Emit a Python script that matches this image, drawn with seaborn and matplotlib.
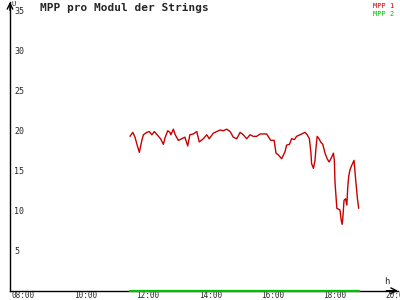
import matplotlib
matplotlib.use("Agg")
import matplotlib.pyplot as plt
from matplotlib.transforms import ScaledTranslation
import seaborn as sns
import pandas as pd

title = "MPP pro Modul der Strings"
series_names = ["MPP 1", "MPP 2"]
series_colors = ["#c80000", "#00c000"]

mpp1_hours = [11.67, 11.76, 11.83, 11.90, 11.97, 12.05, 12.10, 12.21, 12.29, 12.37,
              12.45, 12.56, 12.65, 12.74, 12.80, 12.88, 12.95, 12.98, 13.06, 13.12,
              13.22, 13.33, 13.43, 13.52, 13.59, 13.70, 13.81, 13.89, 14.02, 14.13,
              14.21, 14.34, 14.45, 14.56, 14.66, 14.77, 14.88, 14.98, 15.09, 15.20,
              15.30, 15.41, 15.52, 15.62, 15.73, 15.84, 16.05, 16.18, 16.29, 16.35,
              16.42, 16.53, 16.64, 16.69, 16.78, 16.85, 16.94, 17.01, 17.12, 17.28,
              17.35, 17.42, 17.47, 17.49, 17.55, 17.60, 17.63, 17.67, 17.73, 17.78,
              17.85, 17.92, 17.99, 18.05, 18.11, 18.19, 18.22, 18.24, 18.30, 18.35,
              18.40, 18.44, 18.47, 18.49, 18.53, 18.58, 18.62, 18.65, 18.68, 18.72,
              18.78, 18.85, 18.91, 18.96, 19.00]
mpp1_values = [19.3, 19.8, 19.2, 18.2, 17.3, 18.8, 19.5, 19.8, 19.9, 19.5,
               19.9, 19.4, 19.0, 18.3, 19.2, 20.0, 19.8, 19.5, 20.2, 19.5,
               18.8, 19.0, 19.2, 18.1, 19.5, 19.6, 19.9, 18.6, 19.0, 19.5,
               19.0, 19.7, 19.9, 20.1, 20.0, 20.2, 19.9, 19.2, 19.0, 19.8,
               19.5, 19.0, 19.5, 19.3, 19.3, 19.6, 19.6, 18.8, 18.8, 17.2,
               17.0, 16.5, 17.4, 18.2, 18.3, 19.0, 18.9, 19.3, 19.5, 19.8,
               19.5, 19.0, 17.2, 15.9, 15.3, 16.3, 17.8, 19.3, 19.0, 18.6,
               18.3, 17.2, 16.5, 16.1, 16.5, 17.2, 16.3, 13.6, 10.3, 10.2,
               10.1, 8.8, 8.3, 9.0, 11.3, 11.5, 10.7, 13.0, 14.3, 15.1,
               15.7, 16.3, 13.6, 11.5, 10.3]

mpp2_hours = [11.67, 13.0, 15.0, 17.0, 19.0]
mpp2_values = [0, 0, 0, 0, 0]

x_ticks = [8, 10, 12, 14, 16, 18, 20]
x_tick_labels = ["08:00", "10:00", "12:00", "14:00", "16:00", "18:00", "20:00"]
y_ticks = [5, 10, 15, 20, 25, 30, 35]
y_unit = "U"
x_unit = "h"

df1 = pd.DataFrame({"hour": mpp1_hours, "value": mpp1_values, "series": series_names[0]})
df2 = pd.DataFrame({"hour": mpp2_hours, "value": mpp2_values, "series": series_names[1]})

sns.set_style("white")
plt.rcParams["font.family"] = ["DejaVu Sans Mono", "DejaVu Sans"]

fig = plt.figure(figsize=(4, 3), dpi=100)
ax = fig.add_axes([10 / 400, (300 - 290.7) / 300, 388 / 400, (290.7 - 2) / 300])

sns.lineplot(data=df1, x="hour", y="value", color=series_colors[0], lw=1.0, ax=ax,
             legend=False, zorder=3)
sns.lineplot(data=df2, x="hour", y="value", color=series_colors[1], lw=1.6, ax=ax,
             legend=False, zorder=5, clip_on=False)

ax.set_xlim(7.824, 20.26)
ax.set_ylim(0, 36.1)
ax.set_xlabel("")
ax.set_ylabel("")
for s in ["top", "right"]:
    ax.spines[s].set_visible(False)
for s in ["left", "bottom"]:
    ax.spines[s].set_color("black")
    ax.spines[s].set_linewidth(1.0)

ax.set_xticks(x_ticks)
ax.set_xticklabels(x_tick_labels, fontsize=5.5, ha="left")
ax.set_yticks(y_ticks)
ax.set_yticklabels([str(v) for v in y_ticks], fontsize=6, ha="left")
ax.tick_params(axis="both", direction="inout", length=5, width=1.0, color="black")
ax.tick_params(axis="y", pad=-5.5)
ax.tick_params(axis="x", pad=-2.6)
off = ScaledTranslation(-4 / 100, 0, fig.dpi_scale_trans)
for lab in ax.get_xticklabels():
    lab.set_transform(lab.get_transform() + off)

# axis arrows
ax.annotate("", xy=(1.0, 0), xytext=(0.97, 0), xycoords="axes fraction",
            arrowprops=dict(arrowstyle="->", color="black", lw=1.0, shrinkA=0, shrinkB=0),
            annotation_clip=False)
ax.annotate("", xy=(0, 1.0), xytext=(0, 0.97), xycoords="axes fraction",
            arrowprops=dict(arrowstyle="->", color="black", lw=1.0, shrinkA=0, shrinkB=0),
            annotation_clip=False)

fig.text(12 / 400, 1 - 1 / 300, y_unit, fontsize=5, va="top", ha="left")
fig.text(387 / 400, 1 - 281.5 / 300, x_unit, fontsize=6.5, va="center", ha="center")
fig.text(40 / 400, 1 - 8 / 300, title, fontsize=8, fontweight="bold", va="center", ha="left")
fig.text(394 / 400, 1 - 5.5 / 300, series_names[0], fontsize=5, color=series_colors[0],
         va="center", ha="right")
fig.text(394 / 400, 1 - 13.5 / 300, series_names[1], fontsize=5, color=series_colors[1],
         va="center", ha="right")

fig.savefig("out.png", dpi=100, facecolor="white")
